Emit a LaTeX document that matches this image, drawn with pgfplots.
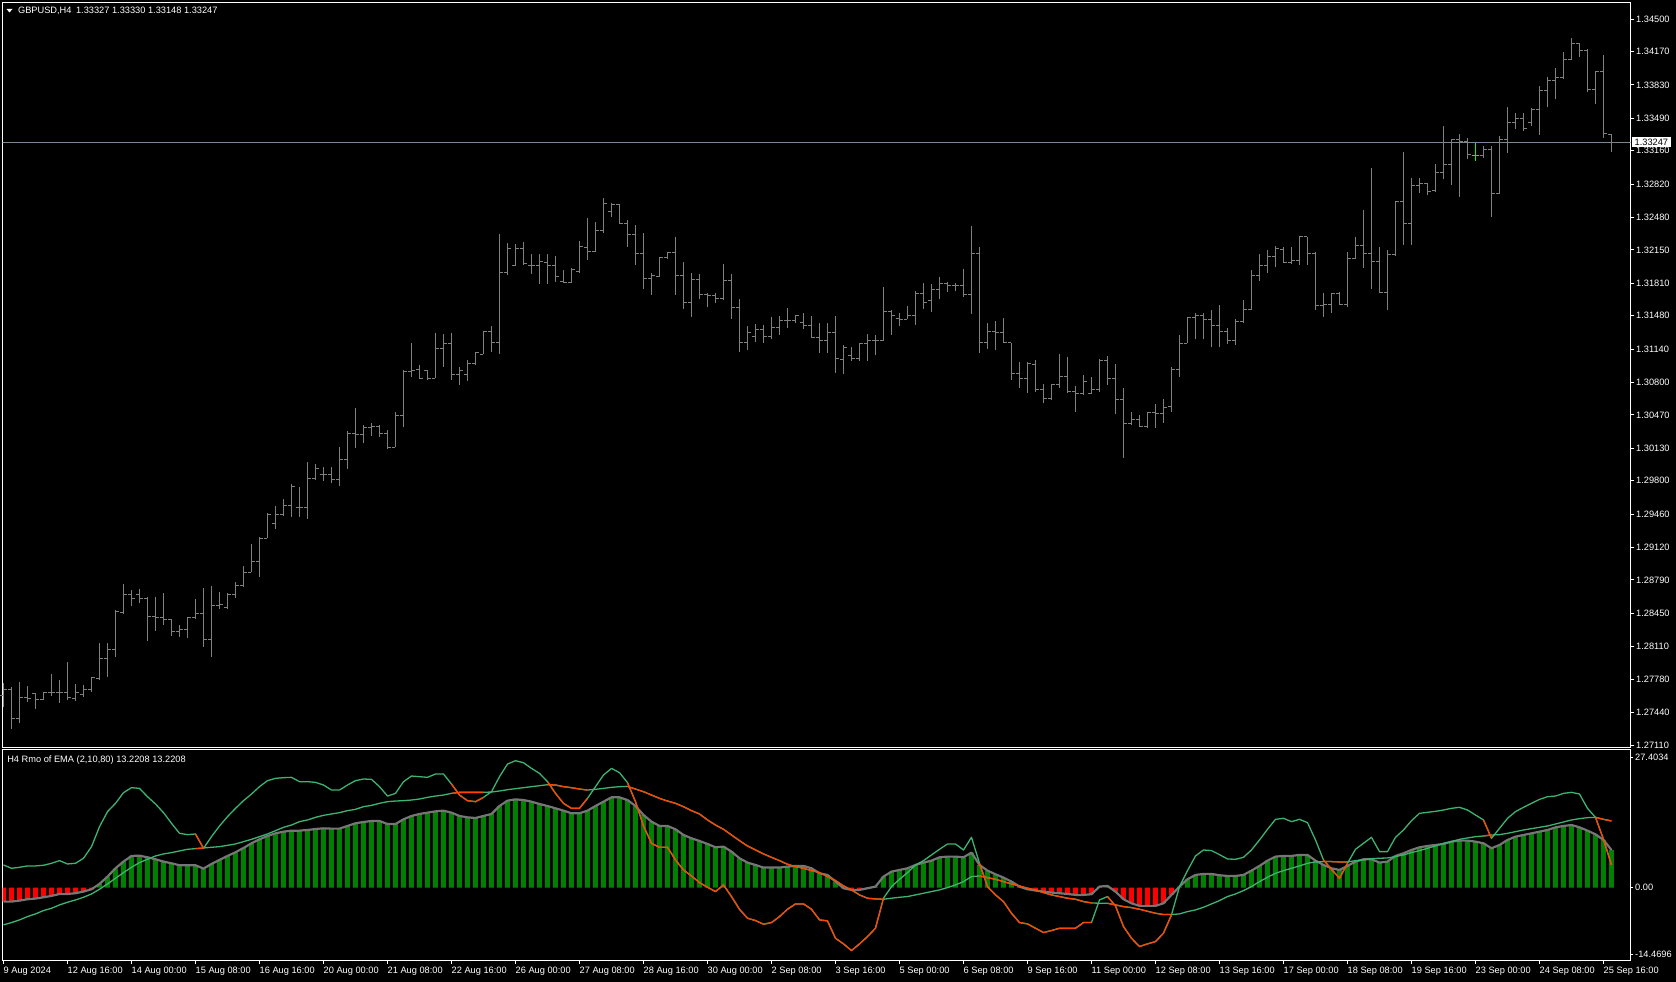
\documentclass[border=0pt]{standalone}
\usepackage{fontspec}
\setmainfont{Liberation Sans}
\usepackage{pgfplots}
\usepackage{pgfplotstable}
\pgfplotsset{compat=1.18}
\definecolor{barcol}{RGB}{128,128,128}
\definecolor{doji}{RGB}{0,255,0}
\definecolor{pline}{RGB}{119,136,153}
\definecolor{hgreen}{RGB}{0,128,0}
\definecolor{hred}{RGB}{255,0,0}
\definecolor{lgray}{RGB}{118,118,118}
\definecolor{sgreen}{RGB}{60,179,113}
\definecolor{ored}{RGB}{255,69,0}
\newcommand\mtfont{\fontsize{9.25}{11}\selectfont}
\pgfdeclareplotmark{otick}{\pgfpathmoveto{\pgfqpoint{-3.5pt}{0pt}}\pgfpathlineto{\pgfqpoint{0pt}{0pt}}\pgfusepathqstroke}
\pgfdeclareplotmark{ctick}{\pgfpathmoveto{\pgfqpoint{0pt}{0pt}}\pgfpathlineto{\pgfqpoint{3.5pt}{0pt}}\pgfusepathqstroke}

\pgfplotstableread{
i O H L C
0 1.27619 1.27738 1.27494 1.27670
1 1.27670 1.27697 1.27270 1.27382
2 1.27382 1.27751 1.27331 1.27595
3 1.27595 1.27711 1.27551 1.27585
4 1.27636 1.27642 1.27479 1.27575
5 1.27575 1.27649 1.27575 1.27649
6 1.27649 1.27833 1.27608 1.27642
7 1.27642 1.27772 1.27541 1.27642
8 1.27649 1.27955 1.27568 1.27595
9 1.27588 1.27731 1.27561 1.27649
10 1.27629 1.27721 1.27601 1.27677
11 1.27677 1.27805 1.27652 1.27799
12 1.27792 1.28145 1.27772 1.27993
13 1.27993 1.28145 1.27805 1.28084
14 1.28084 1.28484 1.28009 1.28467
15 1.28457 1.28749 1.28451 1.28644
16 1.28644 1.28688 1.28525 1.28603
17 1.28647 1.28701 1.28552 1.28603
18 1.28603 1.28620 1.28172 1.28416
19 1.28416 1.28620 1.28274 1.28410
20 1.28410 1.28660 1.28331 1.28389
21 1.28389 1.28389 1.28223 1.28270
22 1.28270 1.28328 1.28212 1.28281
23 1.28281 1.28416 1.28199 1.28410
24 1.28410 1.28596 1.28389 1.28450
25 1.28450 1.28708 1.28111 1.28186
26 1.28186 1.28729 1.28003 1.28532
27 1.28532 1.28664 1.28491 1.28538
28 1.28511 1.28657 1.28491 1.28644
29 1.28644 1.28769 1.28606 1.28729
30 1.28729 1.28932 1.28715 1.28867
31 1.28867 1.29156 1.28867 1.28980
32 1.28980 1.29230 1.28823 1.29214
33 1.29214 1.29469 1.29214 1.29461
34 1.29360 1.29543 1.29312 1.29454
35 1.29454 1.29614 1.29441 1.29543
36 1.29543 1.29767 1.29434 1.29740
37 1.29530 1.29740 1.29434 1.29526
38 1.29526 1.29991 1.29414 1.29825
39 1.29825 1.29971 1.29808 1.29923
40 1.29866 1.29943 1.29801 1.29866
41 1.29866 1.29937 1.29781 1.29808
42 1.29808 1.30140 1.29747 1.30019
43 1.30019 1.30303 1.29923 1.30283
44 1.30283 1.30540 1.30133 1.30266
45 1.30266 1.30364 1.30187 1.30344
46 1.30344 1.30391 1.30256 1.30350
47 1.30350 1.30370 1.30248 1.30276
48 1.30276 1.30316 1.30120 1.30140
49 1.30140 1.30499 1.30140 1.30462
50 1.30462 1.30927 1.30350 1.30910
51 1.30910 1.31205 1.30853 1.30920
52 1.30934 1.30978 1.30843 1.30843
53 1.30920 1.30927 1.30826 1.30843
54 1.30843 1.31307 1.30843 1.31148
55 1.31148 1.31294 1.30961 1.31199
56 1.31199 1.31307 1.30826 1.30877
57 1.30877 1.30961 1.30775 1.30920
58 1.30877 1.31029 1.30818 1.30995
59 1.30995 1.31114 1.30978 1.31104
60 1.31090 1.31324 1.31090 1.31317
61 1.31317 1.31375 1.31114 1.31205
62 1.31205 1.32312 1.31090 1.31915
63 1.31915 1.32217 1.31898 1.32167
64 1.31986 1.32210 1.31986 1.32167
65 1.32167 1.32231 1.31996 1.32007
66 1.31996 1.32108 1.31905 1.31986
67 1.31986 1.32108 1.31803 1.32027
68 1.32024 1.32108 1.31803 1.31989
69 1.31989 1.32088 1.31826 1.31877
70 1.31826 1.31945 1.31810 1.31816
71 1.31816 1.31962 1.31816 1.31952
72 1.31928 1.32243 1.31917 1.32183
73 1.32177 1.32472 1.32043 1.32132
74 1.32132 1.32437 1.32132 1.32343
75 1.32343 1.32676 1.32325 1.32617
76 1.32539 1.32631 1.32488 1.32607
77 1.32607 1.32617 1.32414 1.32421
78 1.32421 1.32454 1.32177 1.32309
79 1.32309 1.32403 1.31996 1.32108
80 1.32108 1.32319 1.31749 1.31861
81 1.31861 1.31917 1.31691 1.31894
82 1.31884 1.32081 1.31877 1.32074
83 1.32074 1.32121 1.32054 1.32121
84 1.32121 1.32278 1.31691 1.31891
85 1.31891 1.32030 1.31545 1.31619
86 1.31619 1.31911 1.31463 1.31844
87 1.31844 1.31904 1.31650 1.31691
88 1.31691 1.31714 1.31565 1.31688
89 1.31688 1.31714 1.31606 1.31653
90 1.31653 1.32003 1.31647 1.31840
91 1.31840 1.31904 1.31443 1.31568
92 1.31568 1.31650 1.31108 1.31205
93 1.31205 1.31375 1.31131 1.31304
94 1.31273 1.31395 1.31213 1.31338
95 1.31338 1.31385 1.31205 1.31273
96 1.31273 1.31470 1.31239 1.31358
97 1.31358 1.31477 1.31283 1.31429
98 1.31429 1.31555 1.31358 1.31429
99 1.31429 1.31487 1.31409 1.31477
100 1.31409 1.31511 1.31348 1.31385
101 1.31385 1.31477 1.31249 1.31259
102 1.31259 1.31409 1.31104 1.31232
103 1.31232 1.31409 1.31104 1.31313
104 1.31313 1.31477 1.30894 1.31046
105 1.31036 1.31182 1.30887 1.31158
106 1.31070 1.31165 1.31022 1.31046
107 1.31046 1.31199 1.31022 1.31199
108 1.31199 1.31294 1.31022 1.31225
109 1.31225 1.31284 1.31080 1.31232
110 1.31232 1.31768 1.31225 1.31518
111 1.31518 1.31538 1.31283 1.31477
112 1.31453 1.31511 1.31375 1.31443
113 1.31443 1.31579 1.31443 1.31487
114 1.31487 1.31734 1.31385 1.31701
115 1.31701 1.31816 1.31545 1.31619
116 1.31630 1.31803 1.31521 1.31742
117 1.31742 1.31870 1.31647 1.31810
118 1.31803 1.31826 1.31724 1.31789
119 1.31789 1.31816 1.31734 1.31789
120 1.31789 1.31952 1.31674 1.31691
121 1.31691 1.32393 1.31501 1.32108
122 1.32108 1.32183 1.31104 1.31212
123 1.31212 1.31409 1.31138 1.31321
124 1.31321 1.31429 1.31131 1.31313
125 1.31313 1.31453 1.31199 1.31205
126 1.31205 1.31205 1.30826 1.30894
127 1.30894 1.31012 1.30741 1.30843
128 1.30843 1.31012 1.30690 1.30995
129 1.30988 1.31029 1.30707 1.30724
130 1.30724 1.30785 1.30588 1.30639
131 1.30639 1.30785 1.30622 1.30775
132 1.30775 1.31090 1.30741 1.30866
133 1.30866 1.31063 1.30697 1.30707
134 1.30707 1.30764 1.30503 1.30690
135 1.30683 1.30877 1.30673 1.30812
136 1.30690 1.30859 1.30680 1.30731
137 1.30731 1.31036 1.30707 1.31029
138 1.31029 1.31070 1.30775 1.30843
139 1.30843 1.30988 1.30480 1.30629
140 1.30629 1.30741 1.30028 1.30378
141 1.30378 1.30503 1.30367 1.30425
142 1.30425 1.30469 1.30350 1.30357
143 1.30357 1.30503 1.30333 1.30493
144 1.30493 1.30581 1.30333 1.30487
145 1.30487 1.30629 1.30384 1.30547
146 1.30554 1.30961 1.30503 1.30934
147 1.30934 1.31284 1.30859 1.31199
148 1.31199 1.31470 1.31199 1.31464
149 1.31464 1.31511 1.31239 1.31487
150 1.31487 1.31504 1.31239 1.31443
151 1.31443 1.31538 1.31158 1.31385
152 1.31385 1.31589 1.31165 1.31317
153 1.31317 1.31351 1.31192 1.31232
154 1.31232 1.31443 1.31182 1.31419
155 1.31419 1.31640 1.31402 1.31538
156 1.31538 1.31945 1.31538 1.31894
157 1.31894 1.32108 1.31837 1.31996
158 1.31996 1.32149 1.31917 1.32081
159 1.32081 1.32190 1.31979 1.32167
160 1.32157 1.32177 1.32014 1.32020
161 1.32020 1.32177 1.32014 1.32040
162 1.32040 1.32296 1.31996 1.32285
163 1.32285 1.32285 1.31996 1.32115
164 1.32115 1.32132 1.31538 1.31579
165 1.31579 1.31708 1.31470 1.31599
166 1.31599 1.31714 1.31511 1.31701
167 1.31701 1.31724 1.31589 1.31599
168 1.31599 1.32132 1.31572 1.32064
169 1.32064 1.32278 1.32054 1.32190
170 1.32190 1.32556 1.31962 1.32115
171 1.32115 1.32981 1.31749 1.32030
172 1.32030 1.32183 1.31714 1.31714
173 1.31714 1.32149 1.31538 1.32098
174 1.32098 1.32648 1.32088 1.32641
175 1.32641 1.33147 1.32200 1.32414
176 1.32414 1.32885 1.32200 1.32804
177 1.32804 1.32878 1.32725 1.32827
178 1.32827 1.32827 1.32709 1.32749
179 1.32759 1.33025 1.32742 1.32937
180 1.32937 1.33411 1.32868 1.33021
181 1.33021 1.33276 1.32810 1.33269
182 1.33269 1.33330 1.32691 1.33252
183 1.33252 1.33286 1.33072 1.33116
184 1.33106 1.33235 1.33058 1.33106
185 1.33113 1.33208 1.33082 1.33174
186 1.33174 1.33211 1.32488 1.32726
187 1.32726 1.33309 1.32718 1.33276
188 1.33276 1.33601 1.33133 1.33445
189 1.33445 1.33547 1.33377 1.33489
190 1.33489 1.33547 1.33363 1.33388
191 1.33445 1.33591 1.33411 1.33581
192 1.33581 1.33819 1.33320 1.33777
193 1.33777 1.33907 1.33601 1.33872
194 1.33872 1.33998 1.33683 1.33907
195 1.33907 1.34161 1.33886 1.34083
196 1.34083 1.34304 1.34083 1.34246
197 1.34246 1.34253 1.34110 1.34184
198 1.34184 1.34192 1.33760 1.33784
199 1.33784 1.33974 1.33635 1.33964
200 1.33964 1.34134 1.33286 1.33337
201 1.33327 1.33330 1.33148 1.33247
}\ohlc

\pgfplotstableread{
i h f s
0 -2.78 4.49 -7.40
1 -2.78 3.83 -6.94
2 -2.58 4.03 -6.41
3 -2.31 4.30 -5.75
4 -2.18 4.30 -5.22
5 -1.92 4.43 -4.56
6 -1.65 4.82 -4.10
7 -1.26 5.35 -3.44
8 -1.26 4.69 -2.91
9 -1.12 4.82 -2.45
10 -0.79 5.82 -1.92
11 -0.33 8.13 -1.26
12 0.73 12.09 -0.33
13 2.18 15.07 0.73
14 3.83 16.72 1.85
15 5.16 18.84 2.97
16 6.28 19.83 4.03
17 6.34 19.69 4.96
18 6.01 18.04 5.62
19 5.62 16.59 6.28
20 5.16 14.87 6.68
21 4.82 12.76 6.94
22 4.43 10.77 7.27
23 4.43 10.51 7.60
24 4.43 10.64 7.73
25 3.77 7.80 7.86
26 4.69 10.11 8.00
27 5.49 12.23 8.13
28 6.28 14.08 8.39
29 7.01 15.73 8.66
30 7.86 17.25 9.12
31 8.79 18.57 9.58
32 9.58 20.03 10.11
33 10.24 21.22 10.64
34 10.77 21.68 11.30
35 11.10 21.81 11.96
36 11.30 21.88 12.42
37 11.30 21.02 13.09
38 11.43 21.02 13.42
39 11.63 20.88 13.94
40 11.76 20.36 14.34
41 11.70 19.36 14.61
42 11.70 19.36 14.87
43 12.23 20.36 15.27
44 12.76 21.22 15.53
45 13.02 21.55 16.06
46 13.22 21.48 16.32
47 13.22 20.03 16.72
48 12.62 18.17 17.05
49 12.62 18.70 17.18
50 13.55 21.02 17.25
51 14.21 22.14 17.38
52 14.61 22.01 17.58
53 14.87 21.88 17.91
54 15.13 22.54 18.17
55 15.27 22.54 18.37
56 14.87 20.55 18.70
57 14.21 18.37 18.90
58 13.94 17.25 18.90
59 13.81 17.05 18.90
60 14.21 17.91 18.90
61 14.61 19.03 18.97
62 16.19 22.01 19.17
63 17.25 24.52 19.43
64 17.51 25.18 19.63
65 17.38 24.78 19.83
66 17.05 23.66 20.03
67 16.59 22.67 20.22
68 16.19 21.02 20.42
69 15.73 18.70 20.36
70 15.27 16.72 20.03
71 14.74 15.73 19.83
72 14.74 15.73 19.56
73 15.27 17.71 19.36
74 16.19 20.03 19.50
75 17.05 22.34 19.69
76 17.91 23.66 19.89
77 17.91 22.80 20.03
78 17.38 20.82 20.09
79 16.19 17.05 19.56
80 14.41 12.23 19.03
81 13.09 8.79 18.37
82 12.23 8.00 17.71
83 12.23 8.00 17.18
84 11.57 5.49 16.72
85 10.44 3.50 16.06
86 9.78 2.31 15.27
87 9.25 0.99 14.61
88 8.66 0.07 13.42
89 8.00 -0.79 12.42
90 8.13 0.53 11.57
91 7.14 -1.78 10.44
92 5.82 -4.30 9.32
93 4.96 -6.08 8.26
94 4.49 -6.54 7.47
95 3.97 -7.27 6.68
96 3.97 -6.94 6.01
97 3.97 -5.75 5.35
98 4.16 -4.30 4.63
99 4.30 -3.24 4.16
100 4.30 -3.24 3.83
101 3.83 -4.30 3.37
102 2.84 -6.41 2.97
103 2.51 -6.61 2.18
104 1.19 -10.05 1.39
105 -0.13 -11.17 0.33
106 -0.46 -12.49 -0.46
107 -0.46 -11.17 -1.45
108 -0.13 -9.72 -2.11
109 0.20 -8.06 -2.25
110 2.18 -2.11 -2.31
111 3.17 0.20 -2.11
112 3.50 1.65 -1.92
113 3.83 2.97 -1.78
114 4.49 4.49 -1.45
115 4.96 5.35 -1.12
116 5.35 6.48 -0.79
117 6.01 7.60 -0.46
118 6.15 8.66 0.00
119 6.15 8.66 0.53
120 6.01 7.47 1.19
121 6.94 9.98 2.18
122 4.49 4.82 2.31
123 3.37 0.20 1.98
124 2.64 -1.45 1.65
125 1.98 -2.78 1.19
126 1.19 -5.09 0.73
127 0.20 -6.94 0.33
128 -0.33 -7.20 -0.13
129 -0.59 -8.06 -0.46
130 -0.79 -8.92 -0.99
131 -0.99 -8.53 -1.45
132 -1.12 -8.06 -1.78
133 -1.26 -8.06 -2.11
134 -1.45 -8.06 -2.31
135 -1.45 -6.94 -2.78
136 -1.32 -6.94 -3.04
137 0.20 -2.45 -3.11
138 0.33 -1.78 -3.11
139 -0.79 -3.63 -3.44
140 -2.31 -7.73 -3.77
141 -3.11 -10.05 -3.97
142 -3.63 -11.70 -4.30
143 -3.63 -11.17 -4.69
144 -3.63 -10.71 -5.09
145 -3.11 -9.05 -5.35
146 -1.45 -5.42 -5.35
147 0.20 0.20 -5.22
148 1.65 3.37 -4.76
149 2.51 6.28 -4.43
150 2.71 7.47 -3.90
151 2.71 7.34 -3.24
152 2.45 6.54 -2.58
153 2.31 5.68 -1.78
154 2.31 5.62 -1.26
155 2.51 6.01 -0.59
156 3.37 7.47 0.20
157 4.30 9.45 1.19
158 5.35 11.57 2.05
159 6.15 13.55 2.84
160 6.28 13.75 3.37
161 6.28 13.09 3.83
162 6.48 13.55 4.30
163 6.48 12.89 4.82
164 5.35 9.45 5.09
165 4.49 5.49 5.16
166 3.83 3.63 5.16
167 3.50 1.85 5.09
168 4.30 4.82 5.09
169 5.16 7.60 5.35
170 5.62 8.79 5.49
171 5.62 9.98 5.75
172 4.96 7.14 5.82
173 5.16 7.14 5.88
174 6.28 9.98 6.15
175 6.81 11.43 6.48
176 7.47 13.28 6.94
177 8.00 14.74 7.34
178 8.26 14.94 7.80
179 8.46 15.13 8.26
180 8.66 15.40 8.79
181 9.12 15.73 9.12
182 9.32 15.93 9.58
183 9.32 15.40 9.85
184 9.12 14.41 10.11
185 8.79 13.42 10.24
186 7.80 9.78 10.44
187 8.46 11.76 10.51
188 9.45 13.75 10.77
189 10.11 15.07 11.10
190 10.44 15.93 11.43
191 10.77 16.72 11.70
192 11.10 17.51 11.96
193 11.43 18.04 12.23
194 11.96 18.17 12.62
195 12.23 18.70 13.02
196 12.42 18.90 13.42
197 11.96 18.57 13.68
198 11.30 15.73 13.88
199 10.57 13.94 13.94
200 9.45 9.58 13.55
201 7.47 4.49 13.2208
}\ind

\pgfplotsset{
  mtaxis/.style={
    scale only axis, clip mode=individual,
    xmin=-0.125, xmax=203.375,
    axis line style={white, line width=1pt},
    tick align=outside, tick style={white, line width=1pt},
    ytick pos=right, yticklabel pos=right,
    yticklabel style={anchor=west, inner sep=0pt, xshift=1.5pt, font=\mtfont, text=white},
  },
  oseg/.style={ored, line width=1.3pt, line join=round},
}

\begin{document}
\begin{tikzpicture}[x=1pt,y=1pt]
\fill[black] (0pt,0pt) rectangle (1676pt,-982pt);
\useasboundingbox (0pt,0pt) rectangle (1676pt,-982pt);

% ---------------- price window ----------------
\begin{axis}[mtaxis,
  at={(2.5pt,-2.5pt)}, anchor=north west, width=1628pt, height=745pt,
  ymin=1.270846, ymax=1.346680,
  xtick=\empty, major tick length=4pt,
  ytick={1.34500,1.34170,1.33830,1.33490,1.33160,1.32820,1.32480,1.32150,1.31810,1.31480,1.31140,1.30800,1.30470,1.30130,1.29800,1.29460,1.29120,1.28790,1.28450,1.28110,1.27780,1.27440,1.27110},
  yticklabels={1.34500,1.34170,1.33830,1.33490,1.33160,1.32820,1.32480,1.32150,1.31810,1.31480,1.31140,1.30800,1.30470,1.30130,1.29800,1.29460,1.29120,1.28790,1.28450,1.28110,1.27780,1.27440,1.27110},
]
\addplot[pline, line width=1pt] coordinates {(-1,1.33247) (205,1.33247)};
\addplot[only marks, mark=otick, mark options={draw=barcol, line width=1pt},
  error bars/.cd, y dir=both, y explicit, error mark=none,
  error bar style={draw=barcol, line width=1pt}]
  table[x=i, y=O, y error plus expr=\thisrow{H}-\thisrow{O}, y error minus expr=\thisrow{O}-\thisrow{L}] {\ohlc};
\addplot[only marks, mark=ctick, mark options={draw=barcol, line width=1pt}]
  table[x=i, y=C] {\ohlc};
% doji bar drawn in the line-chart colour
\addplot[only marks, mark=otick, mark options={draw=doji, line width=1pt}, restrict x to domain=183.5:184.5,
  error bars/.cd, y dir=both, y explicit, error mark=none,
  error bar style={draw=doji, line width=1pt}]
  table[x=i, y=O, y error plus expr=\thisrow{H}-\thisrow{O}, y error minus expr=\thisrow{O}-\thisrow{L}] {\ohlc};
\addplot[only marks, mark=ctick, mark options={draw=doji, line width=1pt}, restrict x to domain=183.5:184.5]
  table[x=i, y=C] {\ohlc};
\node[fill=white, text=black, font=\mtfont, inner xsep=2.5pt, inner ysep=1.6pt, anchor=west, xshift=1.5pt]
  at (axis cs:203.375,1.33247) {1.33247};
\end{axis}

% ---------------- indicator window ----------------
\begin{axis}[mtaxis,
  at={(2.5pt,-749.5pt)}, anchor=north west, width=1628pt, height=211pt,
  ymin=-14.4696, ymax=27.4034, major tick length=3pt,
  xtick={0,8,...,200}, xtick pos=left,
  xticklabels={9 Aug 2024,12 Aug 16:00,14 Aug 00:00,15 Aug 08:00,16 Aug 16:00,20 Aug 00:00,21 Aug 08:00,22 Aug 16:00,26 Aug 00:00,27 Aug 08:00,28 Aug 16:00,30 Aug 00:00,2 Sep 08:00,3 Sep 16:00,5 Sep 00:00,6 Sep 08:00,9 Sep 16:00,11 Sep 00:00,12 Sep 08:00,13 Sep 16:00,17 Sep 00:00,18 Sep 08:00,19 Sep 16:00,23 Sep 00:00,24 Sep 08:00,25 Sep 16:00},
  xticklabel style={anchor=north west, inner sep=0pt, yshift=-3.5pt, font=\mtfont, text=white},
  ytick={-13.24,0,25.86}, yticklabels={-14.4696,0.00,27.4034},
]
\addplot[ybar, bar width=0.625, bar shift=0pt, fill=hgreen, draw=none, restrict y to domain=0:100]
  table[x=i, y=h] {\ind};
\addplot[ybar, bar width=0.625, bar shift=0pt, fill=hred, draw=none, restrict y to domain=-100:0]
  table[x=i, y=h] {\ind};
\addplot[lgray, line width=2.2pt, line join=round] table[x=i, y=h] {\ind};
\addplot[sgreen, line width=1.3pt, line join=round] table[x=i, y=s] {\ind};
\addplot[sgreen, line width=1.3pt, line join=round] table[x=i, y=f] {\ind};
% segments where the fast line is under the slow line
\addplot[oseg, restrict x to domain=24:25] table[x=i, y=f] {\ind};
\addplot[oseg, restrict x to domain=24:25] table[x=i, y=s] {\ind};
\addplot[oseg, restrict x to domain=56:60] table[x=i, y=f] {\ind};
\addplot[oseg, restrict x to domain=56:60] table[x=i, y=s] {\ind};
\addplot[oseg, restrict x to domain=68:73] table[x=i, y=f] {\ind};
\addplot[oseg, restrict x to domain=68:73] table[x=i, y=s] {\ind};
\addplot[oseg, restrict x to domain=78:110] table[x=i, y=f] {\ind};
\addplot[oseg, restrict x to domain=78:110] table[x=i, y=s] {\ind};
\addplot[oseg, restrict x to domain=122:136] table[x=i, y=f] {\ind};
\addplot[oseg, restrict x to domain=122:136] table[x=i, y=s] {\ind};
\addplot[oseg, restrict x to domain=138:146] table[x=i, y=f] {\ind};
\addplot[oseg, restrict x to domain=138:146] table[x=i, y=s] {\ind};
\addplot[oseg, restrict x to domain=165:168] table[x=i, y=f] {\ind};
\addplot[oseg, restrict x to domain=165:168] table[x=i, y=s] {\ind};
\addplot[oseg, restrict x to domain=185:186] table[x=i, y=f] {\ind};
\addplot[oseg, restrict x to domain=185:186] table[x=i, y=s] {\ind};
\addplot[oseg, restrict x to domain=199:201] table[x=i, y=f] {\ind};
\addplot[oseg, restrict x to domain=199:201] table[x=i, y=s] {\ind};
\end{axis}

% headers
\fill[white] (6.5pt,-9pt) -- (12.5pt,-9pt) -- (9.5pt,-12.5pt) -- cycle;
\node[anchor=base west, inner sep=0pt, text=white, font=\mtfont] at (17.9pt,-14pt)
  {GBPUSD,H4\hspace{4.5pt}1.33327 1.33330 1.33148 1.33247};
\node[anchor=base west, inner sep=0pt, text=white, font=\mtfont] at (7.1pt,-762pt)
  {H4 Rmo of EMA (2,10,80) 13.2208 13.2208};
\end{tikzpicture}
\end{document}
